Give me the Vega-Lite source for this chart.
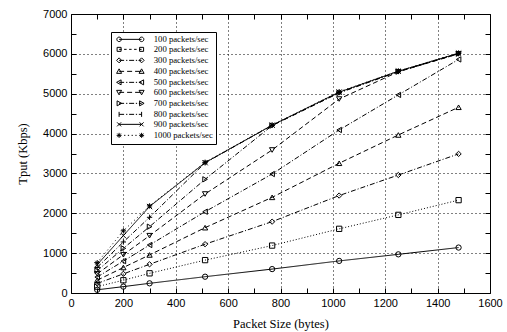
{
  "$schema": "https://vega.github.io/schema/vega-lite/v6.json",
  "width": 419,
  "height": 279,
  "autosize": "none",
  "padding": {"left": 71, "top": 14, "right": 17, "bottom": 39},
  "background": "white",
  "config": {
    "view": {"stroke": "black", "strokeWidth": 1},
    "axis": {
      "domainColor": "black", "tickColor": "black", "labelColor": "black", "titleColor": "black",
      "labelFont": "Liberation Sans", "labelFontSize": 11, "titleFont": "Liberation Serif", "titleFontSize": 12.5, "titleFontWeight": "normal"
    },
    "legend": {"labelFont": "Liberation Serif", "labelFontSize": 8.7, "labelColor": "black"}
  },
  "data": {"values": [
    {"rate": "100 packets/sec", "size": 100, "tput": 80}, {"rate": "100 packets/sec", "size": 200, "tput": 160}, {"rate": "100 packets/sec", "size": 300, "tput": 243}, {"rate": "100 packets/sec", "size": 512, "tput": 409}, {"rate": "100 packets/sec", "size": 768, "tput": 600}, {"rate": "100 packets/sec", "size": 1024, "tput": 805}, {"rate": "100 packets/sec", "size": 1250, "tput": 970}, {"rate": "100 packets/sec", "size": 1480, "tput": 1140},
    {"rate": "200 packets/sec", "size": 100, "tput": 160}, {"rate": "200 packets/sec", "size": 200, "tput": 320}, {"rate": "200 packets/sec", "size": 300, "tput": 494}, {"rate": "200 packets/sec", "size": 512, "tput": 825}, {"rate": "200 packets/sec", "size": 768, "tput": 1190}, {"rate": "200 packets/sec", "size": 1024, "tput": 1610}, {"rate": "200 packets/sec", "size": 1250, "tput": 1960}, {"rate": "200 packets/sec", "size": 1480, "tput": 2330},
    {"rate": "300 packets/sec", "size": 100, "tput": 240}, {"rate": "300 packets/sec", "size": 200, "tput": 480}, {"rate": "300 packets/sec", "size": 300, "tput": 720}, {"rate": "300 packets/sec", "size": 512, "tput": 1225}, {"rate": "300 packets/sec", "size": 768, "tput": 1790}, {"rate": "300 packets/sec", "size": 1024, "tput": 2445}, {"rate": "300 packets/sec", "size": 1250, "tput": 2960}, {"rate": "300 packets/sec", "size": 1480, "tput": 3490},
    {"rate": "400 packets/sec", "size": 100, "tput": 320}, {"rate": "400 packets/sec", "size": 200, "tput": 640}, {"rate": "400 packets/sec", "size": 300, "tput": 955}, {"rate": "400 packets/sec", "size": 512, "tput": 1639}, {"rate": "400 packets/sec", "size": 768, "tput": 2400}, {"rate": "400 packets/sec", "size": 1024, "tput": 3255}, {"rate": "400 packets/sec", "size": 1250, "tput": 3965}, {"rate": "400 packets/sec", "size": 1480, "tput": 4660},
    {"rate": "500 packets/sec", "size": 100, "tput": 400}, {"rate": "500 packets/sec", "size": 200, "tput": 800}, {"rate": "500 packets/sec", "size": 300, "tput": 1204}, {"rate": "500 packets/sec", "size": 512, "tput": 2040}, {"rate": "500 packets/sec", "size": 768, "tput": 2985}, {"rate": "500 packets/sec", "size": 1024, "tput": 4090}, {"rate": "500 packets/sec", "size": 1250, "tput": 4970}, {"rate": "500 packets/sec", "size": 1480, "tput": 5860},
    {"rate": "600 packets/sec", "size": 100, "tput": 480}, {"rate": "600 packets/sec", "size": 200, "tput": 960}, {"rate": "600 packets/sec", "size": 300, "tput": 1438}, {"rate": "600 packets/sec", "size": 512, "tput": 2484}, {"rate": "600 packets/sec", "size": 768, "tput": 3588}, {"rate": "600 packets/sec", "size": 1024, "tput": 4867}, {"rate": "600 packets/sec", "size": 1250, "tput": 5550}, {"rate": "600 packets/sec", "size": 1480, "tput": 6000},
    {"rate": "700 packets/sec", "size": 100, "tput": 560}, {"rate": "700 packets/sec", "size": 200, "tput": 1120}, {"rate": "700 packets/sec", "size": 300, "tput": 1664}, {"rate": "700 packets/sec", "size": 512, "tput": 2852}, {"rate": "700 packets/sec", "size": 768, "tput": 4200}, {"rate": "700 packets/sec", "size": 1024, "tput": 5020}, {"rate": "700 packets/sec", "size": 1250, "tput": 5555}, {"rate": "700 packets/sec", "size": 1480, "tput": 6005},
    {"rate": "800 packets/sec", "size": 100, "tput": 640}, {"rate": "800 packets/sec", "size": 200, "tput": 1280}, {"rate": "800 packets/sec", "size": 300, "tput": 1899}, {"rate": "800 packets/sec", "size": 512, "tput": 3265}, {"rate": "800 packets/sec", "size": 768, "tput": 4205}, {"rate": "800 packets/sec", "size": 1024, "tput": 5030}, {"rate": "800 packets/sec", "size": 1250, "tput": 5560}, {"rate": "800 packets/sec", "size": 1480, "tput": 6010},
    {"rate": "900 packets/sec", "size": 100, "tput": 710}, {"rate": "900 packets/sec", "size": 200, "tput": 1440}, {"rate": "900 packets/sec", "size": 300, "tput": 2170}, {"rate": "900 packets/sec", "size": 512, "tput": 3270}, {"rate": "900 packets/sec", "size": 768, "tput": 4210}, {"rate": "900 packets/sec", "size": 1024, "tput": 5040}, {"rate": "900 packets/sec", "size": 1250, "tput": 5565}, {"rate": "900 packets/sec", "size": 1480, "tput": 6015},
    {"rate": "1000 packets/sec", "size": 100, "tput": 760}, {"rate": "1000 packets/sec", "size": 200, "tput": 1560}, {"rate": "1000 packets/sec", "size": 300, "tput": 2185}, {"rate": "1000 packets/sec", "size": 512, "tput": 3280}, {"rate": "1000 packets/sec", "size": 768, "tput": 4215}, {"rate": "1000 packets/sec", "size": 1024, "tput": 5050}, {"rate": "1000 packets/sec", "size": 1250, "tput": 5570}, {"rate": "1000 packets/sec", "size": 1480, "tput": 6020}
  ]},
  "layer": [
    {
      "mark": {"type": "line", "color": "black", "strokeWidth": 1},
      "encoding": {
        "x": {"field": "size", "type": "quantitative", "scale": {"domain": [0, 1600], "nice": false},
              "axis": {"title": "Packet Size (bytes)", "values": [0,100,200,300,400,500,600,700,800,900,1000,1100,1200,1300,1400,1500,1600],
                       "labelExpr": "datum.value % 200 === 0 ? datum.label : ''", "labelFlush": false, "format": "d",
                       "grid": true, "gridColor": "black", "gridDash": [1, 3], "gridOpacity": {"condition": {"test": "datum.value % 200 === 0 && datum.value > 0 && datum.value < 1600", "value": 1}, "value": 0},
                       "tickSize": -5, "labelPadding": 9, "titlePadding": 9, "domain": false}},
        "y": {"field": "tput", "type": "quantitative", "scale": {"domain": [0, 7000], "nice": false},
              "axis": {"title": "Tput (Kbps)", "values": [0,500,1000,1500,2000,2500,3000,3500,4000,4500,5000,5500,6000,6500,7000],
                       "labelExpr": "datum.value % 1000 === 0 ? datum.label : ''", "format": "d",
                       "grid": true, "gridColor": "black", "gridDash": [1, 3], "gridOpacity": {"condition": {"test": "datum.value % 1000 === 0 && datum.value > 0 && datum.value < 7000", "value": 1}, "value": 0},
                       "tickSize": -5, "labelPadding": 9, "titlePadding": 13, "domain": false}},
        "strokeDash": {"field": "rate", "type": "nominal", "legend": null,
          "scale": {"domain": ["100 packets/sec","200 packets/sec","300 packets/sec","400 packets/sec","500 packets/sec","600 packets/sec","700 packets/sec","800 packets/sec","900 packets/sec","1000 packets/sec"],
                    "range": [[1,0],[1,2],[5,2,1,2],[5,3],[5,2,1,2],[5,3],[5,2,1,2],[5,2,1,2],[1,0],[1,3]]}}
      }
    },
    {
      "mark": {"type": "point", "color": "black", "filled": false, "strokeWidth": 1, "size": 28, "opacity": 1},
      "encoding": {
        "x": {"field": "size", "type": "quantitative", "axis": {"orient": "top", "title": null, "labels": false, "grid": false, "domain": false, "tickSize": -5,
              "values": [0,100,200,300,400,500,600,700,800,900,1000,1100,1200,1300,1400,1500,1600]}},
        "y": {"field": "tput", "type": "quantitative", "axis": {"orient": "right", "title": null, "labels": false, "grid": false, "domain": false, "tickSize": -5,
              "values": [0,500,1000,1500,2000,2500,3000,3500,4000,4500,5000,5500,6000,6500,7000]}},
        "shape": {"field": "rate", "type": "nominal", "legend": null,
          "scale": {"domain": ["100 packets/sec","200 packets/sec","300 packets/sec","400 packets/sec","500 packets/sec","600 packets/sec","700 packets/sec","800 packets/sec","900 packets/sec","1000 packets/sec"],
                    "range": ["circle","square","diamond","triangle-up","triangle-left","triangle-down","triangle-right","M-1,0L1,0M0,-1L0,1","M-1,-1L1,1M-1,1L1,-1","M-1,0L1,0M0,-1L0,1M-0.7,-0.7L0.7,0.7M-0.7,0.7L0.7,-0.7"]}}
      }
    },
    {
      "mark": {"type": "point", "color": "black", "filled": false, "strokeWidth": 1, "size": 0, "opacity": 1},
      "encoding": {
        "x": {"field": "size", "type": "quantitative", "axis": null},
        "y": {"field": "tput", "type": "quantitative", "axis": null},
        "shape": {"field": "rate", "type": "nominal",
          "scale": {"domain": ["100 packets/sec","200 packets/sec","300 packets/sec","400 packets/sec","500 packets/sec","600 packets/sec","700 packets/sec","800 packets/sec","900 packets/sec","1000 packets/sec"],
                    "range": [
                      "M-4.5,0L4.5,0M-5.4,0a0.9,0.9 0 1,0 1.8,0a0.9,0.9 0 1,0 -1.8,0M3.6,0a0.9,0.9 0 1,0 1.8,0a0.9,0.9 0 1,0 -1.8,0",
                      "M-4.5,0L-3.5,0M-2.5,0L-1.5,0M-0.5,0L0.5,0M1.5,0L2.5,0M3.5,0L4.5,0M-5.3,-0.8h1.6v1.6h-1.6zM3.7,-0.8h1.6v1.6h-1.6z",
                      "M-4.5,0L-2.5,0M-1.7,0L-1.2,0M-0.5,0L1.5,0M2.2,0L2.7,0M3.4,0L4.5,0M-4.5,-1l1,1l-1,1l-1,-1zM4.5,-1l1,1l-1,1l-1,-1z",
                      "M-4.5,0L-2.5,0M-1.3,0L0.7,0M1.9,0L4.5,0M-4.5,-1l1,1.8h-2zM4.5,-1l1,1.8h-2z",
                      "M-4.5,0L-2.5,0M-1.7,0L-1.2,0M-0.5,0L1.5,0M2.2,0L2.7,0M3.4,0L4.5,0M-5.5,0l1.8,-1v2zM3.5,0l1.8,-1v2z",
                      "M-4.5,0L-2.5,0M-1.3,0L0.7,0M1.9,0L4.5,0M-4.5,1l1,-1.8h-2zM4.5,1l1,-1.8h-2z",
                      "M-4.5,0L-2.5,0M-1.7,0L-1.2,0M-0.5,0L1.5,0M2.2,0L2.7,0M3.4,0L4.5,0M-3.5,0l-1.8,-1v2zM5.5,0l-1.8,-1v2z",
                      "M-4.5,0L-2.5,0M-1.7,0L-1.2,0M-0.5,0L1.5,0M2.2,0L2.7,0M3.4,0L4.5,0M-4.5,-1v2M4.5,-1v2",
                      "M-4.5,0L4.5,0M-5.3,-0.8l1.6,1.6M-5.3,0.8l1.6,-1.6M3.7,-0.8l1.6,1.6M3.7,0.8l1.6,-1.6",
                      "M-5.5,0h2M-4.5,-1v2M-5.2,-0.7l1.4,1.4M-5.2,0.7l1.4,-1.4M-2.5,0L-2,0M-1,0L-0.5,0M0.5,0L1,0M2,0L2.5,0M3.5,0h2M4.5,-1v2M3.8,-0.7l1.4,1.4M3.8,0.7l1.4,-1.4"
                    ]},
          "legend": {"title": null, "orient": "none", "legendX": 40, "legendY": 18, "strokeColor": "black", "fillColor": "white", "padding": 3,
                     "rowPadding": 0, "symbolSize": 25, "symbolOpacity": 1, "symbolStrokeColor": "black", "symbolFillColor": "transparent", "symbolStrokeWidth": 1, "labelOffset": 19, "symbolOffset": 12}}
      }
    }
  ],
  "resolve": {"axis": {"x": "independent", "y": "independent"}, "scale": {"shape": "independent"}}
}
